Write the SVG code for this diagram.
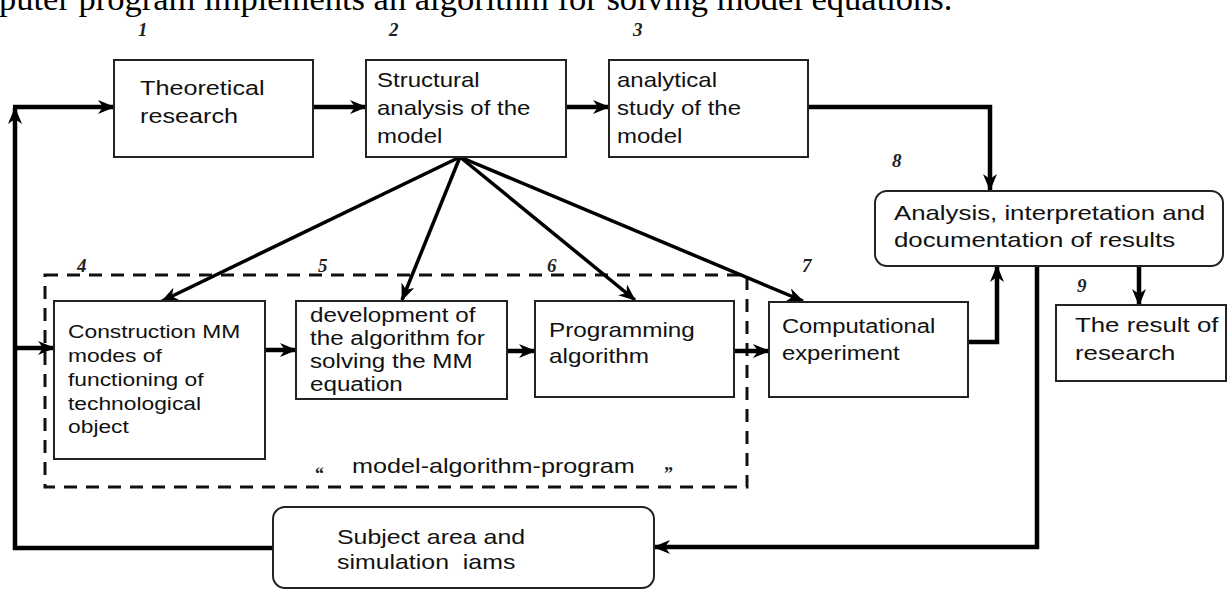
<svg xmlns="http://www.w3.org/2000/svg" width="1228" height="590" viewBox="0 0 1228 590">
<style>
.box{fill:#fff;stroke:#222;stroke-width:2}
.t{font-family:"Liberation Sans",Arial,sans-serif;fill:#111}
.num{font-family:"Liberation Serif","Times New Roman",serif;font-style:italic;font-weight:bold;font-size:19px;fill:#222}
.q{font-family:"Liberation Serif","Times New Roman",serif;font-weight:bold;font-size:18px;fill:#222}
.thick{fill:none;stroke:#000;stroke-width:4.5}
.fan{fill:none;stroke:#000;stroke-width:3.5}
.dash{fill:none;stroke:#111;stroke-width:3;stroke-dasharray:13 9}
</style>
<defs>
<marker id="ah" markerUnits="userSpaceOnUse" markerWidth="18" markerHeight="14" refX="16" refY="7" orient="auto">
<path d="M0,0 L17,7 L0,14 L5,7 z" fill="#000"/>
</marker>
</defs>
<rect width="1228" height="590" fill="#fff"/>
<text x="-1" y="10" font-family="'Liberation Serif','Times New Roman',serif" font-size="34.5" fill="#000">puter program implements an algorithm for solving model equations.</text>

<g id="labels">
<text class="num" x="138" y="36">1</text>
<text class="num" x="389" y="36">2</text>
<text class="num" x="633" y="36">3</text>
<text class="num" x="77" y="272">4</text>
<text class="num" x="318" y="272">5</text>
<text class="num" x="547" y="272">6</text>
<text class="num" x="802" y="272">7</text>
<text class="num" x="892" y="167">8</text>
<text class="num" x="1077" y="292">9</text>
</g>

<g id="group-map">
<rect class="dash" x="45" y="275" width="702" height="212"/>
<text class="q" x="315" y="480">“</text>
<text class="t" font-size="20" transform="scale(1.26,1)" x="279.4" y="473">model-algorithm-program</text>
<text class="q" x="664" y="480">”</text>
</g>

<g id="connectors">
<polyline class="thick" points="273,548 15,548 15,108" marker-end="url(#ah)"/>
<line class="thick" x1="13" y1="107" x2="114" y2="107" marker-end="url(#ah)"/>
<line class="thick" x1="15" y1="348" x2="54" y2="348" marker-end="url(#ah)"/>
<line class="thick" x1="313" y1="107" x2="366" y2="107" marker-end="url(#ah)"/>
<line class="thick" x1="566" y1="107" x2="609" y2="107" marker-end="url(#ah)"/>
<polyline class="thick" points="808,107 990,107 990,190" marker-end="url(#ah)"/>
<line class="fan" x1="460" y1="157" x2="162" y2="301" marker-end="url(#ah)"/>
<line class="fan" x1="460" y1="157" x2="402" y2="300" marker-end="url(#ah)"/>
<line class="fan" x1="460" y1="157" x2="635" y2="300" marker-end="url(#ah)"/>
<line class="fan" x1="460" y1="157" x2="803" y2="301" marker-end="url(#ah)"/>
<line class="thick" x1="265" y1="350" x2="296" y2="350" marker-end="url(#ah)"/>
<line class="thick" x1="507" y1="351" x2="535" y2="351" marker-end="url(#ah)"/>
<line class="thick" x1="734" y1="351" x2="769" y2="351" marker-end="url(#ah)"/>
<polyline class="thick" points="968,342 997,342 997,266" marker-end="url(#ah)"/>
<line class="thick" x1="1139" y1="266" x2="1139" y2="305" marker-end="url(#ah)"/>
<polyline class="thick" points="1037,266 1037,547 654,547" marker-end="url(#ah)"/>
</g>

<g id="n1">
<rect class="box" x="114" y="60" width="199" height="97"/>
<text class="t" font-size="21" transform="scale(1.2,1)"><tspan x="116.7" y="95">Theoretical</tspan><tspan x="116.7" y="123">research</tspan></text>
</g>
<g id="n2">
<rect class="box" x="366" y="60" width="200" height="97"/>
<text class="t" font-size="20" transform="scale(1.2,1)"><tspan x="314.2" y="87">Structural</tspan><tspan x="314.2" y="115">analysis of the</tspan><tspan x="314.2" y="143">model</tspan></text>
</g>
<g id="n3">
<rect class="box" x="609" y="60" width="199" height="97"/>
<text class="t" font-size="20" transform="scale(1.2,1)"><tspan x="514.2" y="87">analytical</tspan><tspan x="514.2" y="115">study of the</tspan><tspan x="514.2" y="143">model</tspan></text>
</g>
<g id="n4">
<rect class="box" x="54" y="301" width="211" height="158"/>
<text class="t" font-size="19" transform="scale(1.2,1)"><tspan x="56.7" y="338">Construction MM</tspan><tspan x="56.7" y="362">modes of</tspan><tspan x="56.7" y="386">functioning of</tspan><tspan x="56.7" y="410">technological</tspan><tspan x="56.7" y="433">object</tspan></text>
</g>
<g id="n5">
<rect class="box" x="296" y="301" width="211" height="98"/>
<text class="t" font-size="20" transform="scale(1.21,1)"><tspan x="256.2" y="322">development of</tspan><tspan x="256.2" y="345">the algorithm for</tspan><tspan x="256.2" y="368">solving the MM</tspan><tspan x="256.2" y="391">equation</tspan></text>
</g>
<g id="n6">
<rect class="box" x="535" y="301" width="199" height="96"/>
<text class="t" font-size="20" transform="scale(1.215,1)"><tspan x="451.9" y="337">Programming</tspan><tspan x="451.9" y="363">algorithm</tspan></text>
</g>
<g id="n7">
<rect class="box" x="769" y="302" width="199" height="95"/>
<text class="t" font-size="20" transform="scale(1.19,1)"><tspan x="657.1" y="333">Computational</tspan><tspan x="657.1" y="360">experiment</tspan></text>
</g>
<g id="n8">
<rect class="box" x="875" y="191" width="348" height="75" rx="12"/>
<text class="t" font-size="21" transform="scale(1.23,1)"><tspan x="726.8" y="220">Analysis, interpretation and</tspan><tspan x="726.8" y="247">documentation of results</tspan></text>
</g>
<g id="n9">
<rect class="box" x="1056" y="305" width="170" height="76"/>
<text class="t" font-size="21" transform="scale(1.23,1)"><tspan x="874" y="332">The result of</tspan><tspan x="874" y="360">research</tspan></text>
</g>
<g id="n10">
<rect class="box" x="273" y="507" width="381" height="81" rx="12"/>
<text class="t" font-size="21" transform="scale(1.186,1)" style="white-space:pre"><tspan x="284.1" y="544">Subject area and</tspan><tspan x="284.1" y="569">simulation  iams</tspan></text>
</g>
</svg>
